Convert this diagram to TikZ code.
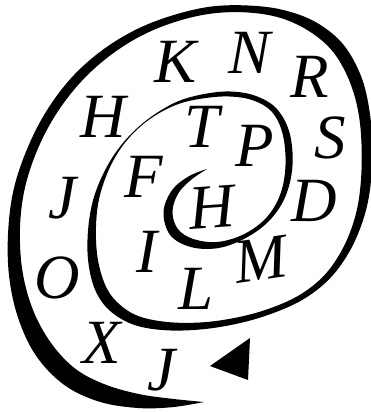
\documentclass[tikz,border=0pt]{standalone}
\usepackage{fontspec}
\setmainfont{Liberation Serif}
\usetikzlibrary{calc}

\begin{document}
\begin{tikzpicture}[x=1pt,y=-1pt,
  lett/.style={font=\fontsize{63}{63}\selectfont\itshape,inner sep=0pt,anchor=center},
  spiral/.style={fill=black}]
  \useasboundingbox (0,0) rectangle (371,412);
  % centre line of the spiral, from the inside out: x/y/half width
  \foreach \px/\py/\hw [count=\i] in {207/169/0, 190/178/1.5, 175/192/2.5, 168/212/3.2,
      174/232/3.5, 192/243/3, 218/245/2.2, 245/236/1.5, 268/219/1.5, 283/195/2,
      289/165/2.5, 286/133/2.5, 274/110/2, 254/98/1.8, 230/94/1.8, 205/96/1.5,
      180/102/1, 158/113/0.5, 138/128/0.35, 120/148/0.6, 106/172/1.2, 96/200/2,
      92/230/2.8, 93/260/3.5, 100/287/4, 113/306/4, 135/320/3.5, 165/326/3,
      200/326/2.5, 235/321/2.2, 268/312/2, 300/298/2, 326/278/2.2, 345/252/2.6,
      358/222/3, 365/190/3.5, 367/150/3.8, 364/112/4, 355/78/4.5, 338/48/4.5,
      313/27/4, 282/14/3, 248/9/2.5, 212/10/2.5, 176/18/2.5, 140/32/2.8,
      106/53/3.2, 76/80/3.5, 51/113/3.5, 32/150/3.5, 19/190/3.8, 14/232/4.2,
      16/275/5, 26/315/6, 44/350/7, 70/377/7, 102/393/6.5, 138/401/5,
      172/403/3, 204/402/0}{
    \coordinate (p\i) at (\px,\py);
    \expandafter\xdef\csname hw\i\endcsname{\hw}
  }
  \def\np{60}
  \foreach \i in {1,...,\np}{
    \pgfmathtruncatemacro\ia{max(\i-1,1)}
    \pgfmathtruncatemacro\ib{min(\i+1,\np)}
    \pgfmathsetmacro\hwv{1.4*\csname hw\i\endcsname}
    \coordinate (q\i) at ($(p\i)+(p\ib)-(p\ia)$);
    \coordinate (l\i) at ($(p\i)!\hwv pt!90:(q\i)$);
    \coordinate (r\i) at ($(p\i)!\hwv pt!-90:(q\i)$);
  }
  \def\leftedge{}\def\rightedge{}
  \foreach \i in {1,...,\np}{\xdef\leftedge{\leftedge (l\i)}}
  \foreach \i in {\np,...,1}{\xdef\rightedge{\rightedge (r\i)}}
  \edef\spiralpath{\noexpand\fill[spiral] plot[smooth,tension=0.6] coordinates {\leftedge}
    -- plot[smooth,tension=0.6] coordinates {\rightedge} -- cycle;}
  \spiralpath

  % the arrow head
  \fill (210,366) -- (250,338) -- (248,380) -- cycle;

  % letters, outer ring
  \node[lett] (h1) at (103,117) {H};
  \node[lett] (k1) at (176,62) {K};
  \node[lett] (n1) at (250,53) {N};
  \node[lett] (r1) at (310,77) {R};
  \node[lett] (s1) at (330,138) {S};
  \node[lett] (d1) at (314,201) {D};
  \node[lett] (j1) at (62,198) {J};
  \node[lett] (o1) at (57,278) {O};
  \node[lett] (x1) at (102,343) {X};
  \node[lett] (j2) at (161,370) {J};
  % middle ring
  \node[lett] (t2) at (202,127) {T};
  \node[lett] (p2) at (255,146) {P};
  \node[lett] (f2) at (144,177) {F};
  \node[lett] (i2) at (147,252) {I};
  \node[lett] (l2) at (196,289) {L};
  \node[lett,rotate=8] (m2) at (261,259) {M};
  % centre
  \node[lett,rotate=4] (h3) at (212,207) {H};
\end{tikzpicture}
\end{document}
